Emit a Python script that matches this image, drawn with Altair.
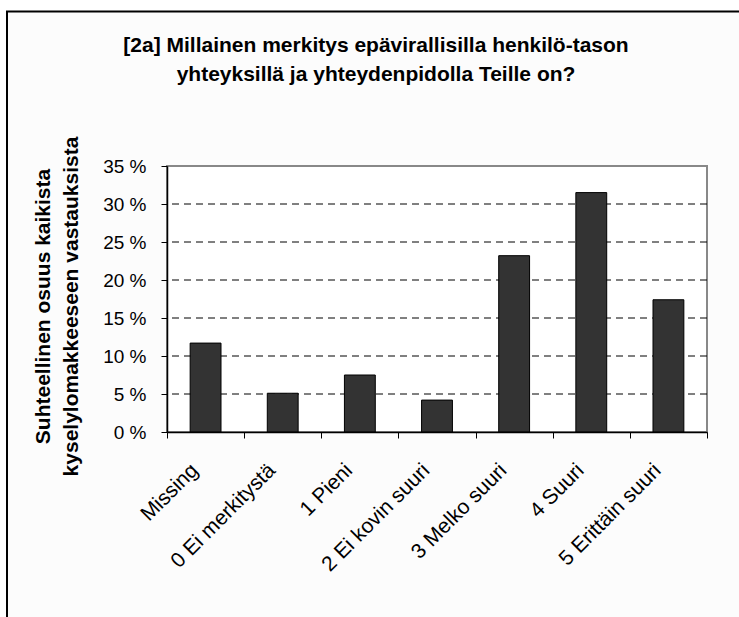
import altair as alt
import pandas as pd

# Survey answers: share of all questionnaire responses (%)
categories = [
    "Missing",
    "0 Ei merkitystä",
    "1 Pieni",
    "2 Ei kovin suuri",
    "3 Melko suuri",
    "4 Suuri",
    "5 Erittäin suuri",
]
shares = [11.7, 5.1, 7.5, 4.2, 23.2, 31.5, 17.4]
y_ticks = [0, 5, 10, 15, 20, 25, 30, 35]
grid_levels = [5, 10, 15, 20, 25, 30]

title_lines = [
    "[2a] Millainen merkitys epävirallisilla henkilö-tason",
    "yhteyksillä ja yhteydenpidolla Teille on?",
]
y_title_lines = ["Suhteellinen osuus kaikista", "kyselylomakkeeseen vastauksista"]

W, H = 540, 266
FONT = "Liberation Sans"

bars_df = pd.DataFrame({"category": categories, "share": shares})
grid_df = pd.DataFrame({"level": grid_levels})
one = pd.DataFrame({"k": [0]})

y_scale = alt.Scale(domain=[0, 35], nice=False, zero=True)

y_axis = alt.Axis(
    values=y_ticks,
    labelExpr="datum.value + ' %'",
    grid=False,
    tickSize=6,
    tickColor="#000000",
    domainColor="#000000",
    domainWidth=1.5,
    labelFont=FONT,
    labelFontSize=19,
    labelColor="#000000",
    labelPadding=15,
    title=y_title_lines,
    titleFont=FONT,
    titleFontSize=21,
    titleFontWeight="bold",
    titleColor="#000000",
    titleAngle=270,
    titleAlign="center",
    titleBaseline="middle",
    titleX=-124,
    titleY=H / 2 + 7,
    titleLineHeight=28.5,
    zindex=1,
)

x_axis = alt.Axis(
    title=None,
    labelAngle=315,
    labelAlign="right",
    labelBaseline="middle",
    labelPadding=29,
    labelOffset=-11,
    labelFont=FONT,
    labelFontSize=21,
    labelColor="#000000",
    labelLimit=300,
    tickBand="extent",
    tickSize=6,
    tickColor="#000000",
    domainColor="#000000",
    domainWidth=1.5,
    grid=False,
    zindex=1,
)

# Outer chart frame
frame = alt.Chart(one).mark_rect(fill="#fcfcfc", stroke="#000000", strokeWidth=2).encode(
    x=alt.value(-160), x2=alt.value(W + 80), y=alt.value(-154.5), y2=alt.value(H + 240)
)

# Plot area with grey border
plot_bg = alt.Chart(one).mark_rect(fill="#ffffff", stroke="#888888", strokeWidth=2).encode(
    x=alt.value(0), x2=alt.value(W), y=alt.value(0), y2=alt.value(H)
)

# Dashed horizontal gridlines
grid = alt.Chart(grid_df).mark_rule(color="#000000", strokeWidth=1, strokeDash=[7, 5], opacity=1).encode(
    y=alt.Y("level:Q", scale=y_scale, axis=y_axis)
)

bars = alt.Chart(bars_df).mark_bar(
    fill="#333333", stroke="#000000", strokeWidth=1, width=alt.RelativeBandSize(0.4)
).encode(
    x=alt.X(
        "category:N",
        sort=categories,
        scale=alt.Scale(paddingInner=0, paddingOuter=0),
        axis=x_axis,
    ),
    y=alt.Y("share:Q", scale=y_scale, axis=y_axis),
)

chart = (
    alt.layer(frame, plot_bg, grid, bars)
    .properties(
        width=W,
        height=H,
        padding={"left": 167, "top": 166, "right": 32, "bottom": 185},
        autosize=alt.AutoSizeParams(type="none"),
        background="#ffffff",
        title=alt.Title(
            title_lines,
            font=FONT,
            fontSize=21,
            fontWeight="bold",
            color="#000000",
            anchor="middle",
            frame="group",
            dx=-61,
            dy=74,
            offset=0,
            lineHeight=29,
        ),
    )
    .configure_view(stroke=None)
)

chart.save("out.html", embed_options={"renderer": "svg", "actions": False})
